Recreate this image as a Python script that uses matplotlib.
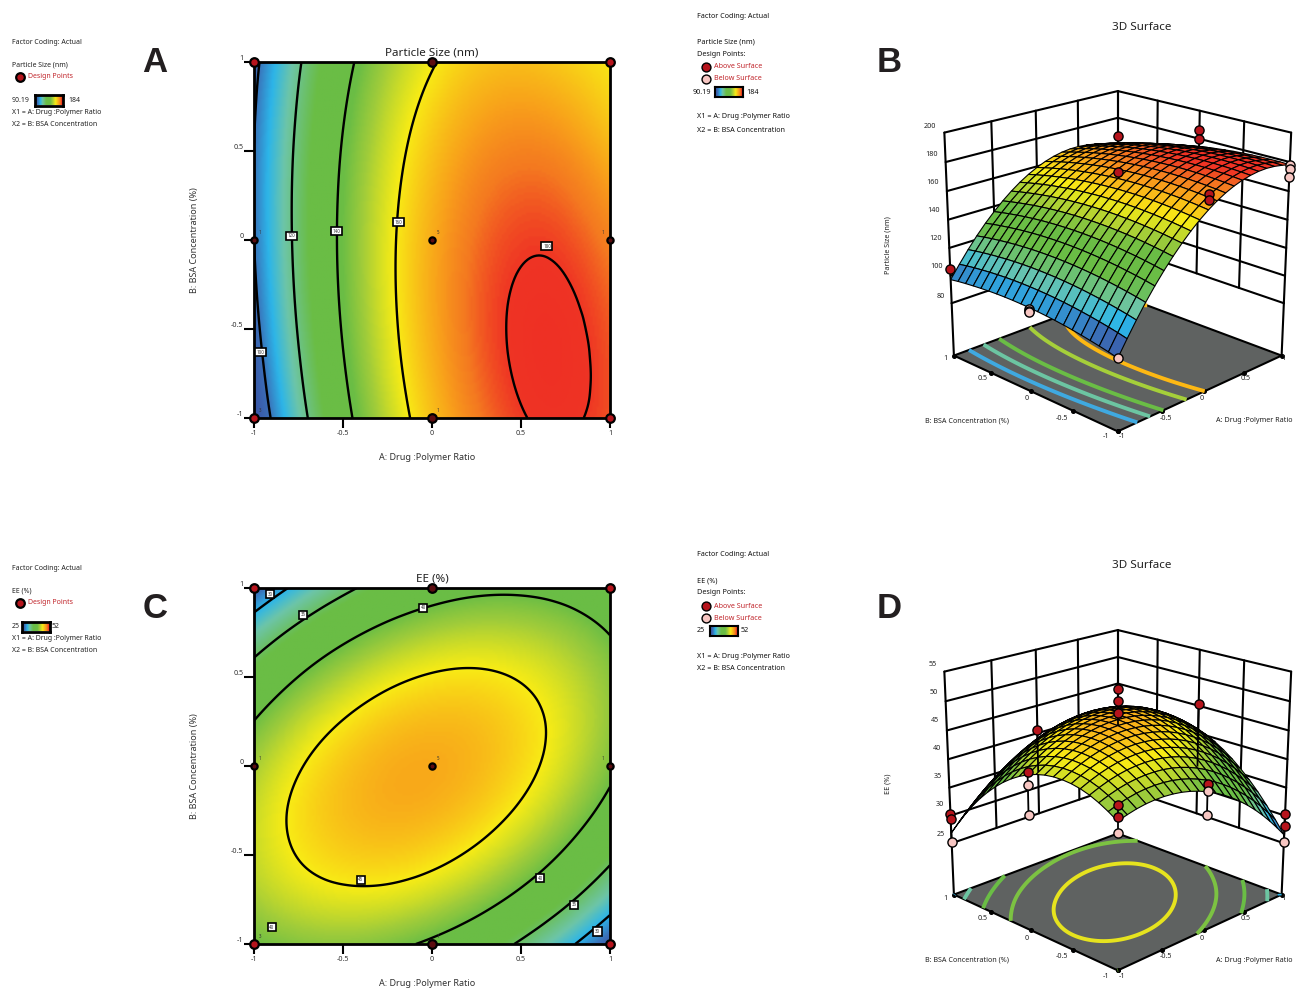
import numpy as np
import matplotlib
matplotlib.use("Agg")
import matplotlib.pyplot as plt
import matplotlib.tri as mtri
from matplotlib.colors import LinearSegmentedColormap, Normalize

plt.rcParams['font.family'] = ['Noto Sans', 'DejaVu Sans']

W, H = 1305, 992
AXIS_VALUES = [-1, -0.75, -0.5, -0.25, 0, 0.25, 0.5, 0.75, 1]
TICKS = [-1, -0.5, 0, 0.5, 1]
TICK_LABELS = ['-1', '-0.5', '0', '0.5', '1']

# rows: B = -1 ... 1, columns: A = -1 ... 1
PARTICLE_SIZE = [
    [90.40, 115.26, 136.10, 152.96, 165.82, 174.72, 179.60, 180.71, 178.20],
    [93.96, 118.40, 138.82, 155.26, 167.71, 176.18, 180.65, 181.33, 178.41],
    [96.75, 120.77, 140.77, 156.79, 168.82, 176.88, 180.93, 181.19, 177.85],
    [98.76, 122.36, 141.95, 157.55, 169.16, 176.79, 180.42, 180.27, 176.51],
    [100.00, 123.18, 142.35, 157.53, 168.72, 175.94, 179.15, 178.58, 174.40],
    [100.46, 123.22, 141.97, 156.73, 167.50, 174.31, 177.10, 176.11, 171.51],
    [100.15, 122.49, 140.83, 155.17, 165.52, 171.90, 174.27, 172.87, 167.85],
    [99.06, 120.98, 138.90, 152.82, 162.75, 168.72, 170.67, 168.85, 163.80],
    [97.20, 118.70, 136.20, 149.71, 159.22, 164.77, 166.30, 164.30, 160.60],
]
EE = [
    [39.98, 41.01, 41.26, 40.74, 39.44, 37.37, 34.52, 30.90, 26.50],
    [42.20, 43.61, 44.23, 44.09, 43.16, 41.47, 38.99, 35.75, 31.72],
    [43.32, 45.10, 46.10, 46.33, 45.78, 44.46, 42.36, 39.49, 35.84],
    [43.33, 45.49, 46.86, 47.47, 47.29, 46.35, 44.62, 42.13, 38.85],
    [42.24, 44.77, 46.52, 47.50, 47.70, 47.13, 45.78, 43.66, 40.76],
    [40.05, 42.96, 45.08, 46.44, 47.01, 46.82, 45.84, 44.10, 41.57],
    [36.76, 40.04, 42.54, 44.27, 45.22, 45.40, 44.80, 43.43, 41.28],
    [32.36, 36.02, 38.89, 41.00, 42.32, 42.88, 42.65, 41.66, 39.88],
    [26.86, 30.89, 34.14, 36.62, 38.32, 39.25, 39.40, 38.78, 37.38],
]

SIZE_LEVELS = [100, 120, 140, 160, 180]
EE_LEVELS = [30, 35, 40, 45]
SIZE_RANGE = (90.19, 184)
EE_RANGE = (25, 52)

SIZE_FLOOR_LEVELS = [112, 125, 137, 155, 166]
SIZE_FLOOR_COLORS = ['#3fa9e0', '#6cc5a2', '#6abd45', '#a5cf3a', '#fdb813']
EE_FLOOR_LEVELS = [27, 30, 35, 40, 45]
EE_FLOOR_COLORS = ['#2cb5e9', '#6cc5a2', '#6abd45', '#7cc242', '#e6e31e']

SIZE_LABELS = [(-0.966, -0.63, '100'), (-0.787, 0.023, '120'), (-0.534, 0.05, '140'),
               (-0.19, 0.1, '160'), (0.646, -0.034, '180')]
EE_LABELS = [(-0.91, 0.966, '30'), (-0.725, 0.85, '35'), (-0.05, 0.89, '40'), (-0.4, -0.64, '45'),
             (0.607, -0.63, '40'), (0.8, -0.78, '35'), (0.93, -0.93, '30'), (-0.9, -0.905, '40')]

POINTS_A = [-1, 0, 1, -1, 0, 1, -1, 0, 1]
POINTS_B = [-1, -1, -1, 0, 0, 0, 1, 1, 1]
POINTS_N = ['3', '1', '', '1', '5', '1', '', '', '']

# (A, B, measured value, above surface?, in front of the surface?)
SIZE_DESIGN = [
    (1, 1, 166, True, False), (0, 0, 173, True, True),
    (1, 0, 186, True, True), (1, 0, 180, True, True),
    (0, -1, 176, True, True), (0, -1, 172, True, True),
    (-1, 1, 105, True, True),
    (-1, 0, 99, False, True), (-1, 0, 98, False, True), (-1, 0, 97, False, True),
    (-1, -1, 90.19, False, True),
    (1, -1, 178, False, True), (1, -1, 175, False, True), (1, -1, 170, False, True),
]
EE_DESIGN = [
    (0, 0, 52, True, True), (0, 0, 50, True, True), (0, 0, 48, True, True),
    (-1, -1, 42.6, True, True), (-1, -1, 40.6, True, True), (-1, -1, 38.1, False, True),
    (-1, 1, 30.3, True, True), (-1, 1, 29.4, True, True), (-1, 1, 25.3, False, True),
    (1, -1, 30.3, True, True), (1, -1, 28.2, True, True), (1, -1, 25.3, False, True),
    (-1, 0, 42.7, True, True), (-1, 0, 40.6, False, True), (-1, 0, 35.5, False, True),
    (0, -1, 40.7, True, True), (0, -1, 39.6, False, True), (0, -1, 35.5, False, True),
    (0, 1, 40.5, True, True), (1, 0, 45.3, True, True),
]
SIZE_STEMS = []
EE_STEMS = [(-1, 0, 35.5, 42.7), (0, -1, 35.5, 40.7), (0, 1, 33, 40.5), (1, 0, 34, 45.3),
            (0, 0, 46, 52), (-1, -1, 38.1, 42.6), (-1, 1, 25.3, 30.3), (1, -1, 25.3, 30.3)]

cmap = LinearSegmentedColormap.from_list('design_expert', [
    (0.00, '#3953a4'), (0.09, '#3b6cb5'), (0.18, '#2cb5e9'), (0.27, '#6dc5a8'), (0.40, '#6abd45'),
    (0.55, '#6abd45'), (0.63, '#a0cc3a'), (0.74, '#f8ec15'), (0.85, '#f9a51a'), (0.91, '#f47920'),
    (0.96, '#ef3424'), (1.00, '#ee2b24')])
RED = '#b6141c'
PINK = '#f7c6c2'
LEG_RED = '#c1272d'
FLOOR = '#5f6261'
FONT_2D = 6.5


def refine(grid, n):
    """Smooth the read-off grid with matplotlib's own cubic tri interpolator."""
    ax_v = np.array(AXIS_VALUES, float)
    xg, yg = np.meshgrid(ax_v, ax_v)
    tri = mtri.Triangulation(xg.ravel(), yg.ravel())
    interp = mtri.CubicTriInterpolator(tri, np.array(grid, float).ravel(), kind='min_E')
    line = np.linspace(-1, 1, n)
    xf, yf = np.meshgrid(line, line)
    return xf, yf, np.ma.filled(interp(xf, yf), np.nan)


def px_axes(x0, y0, x1, y1, **kw):
    return fig.add_axes([x0 / W, 1 - y1 / H, (x1 - x0) / W, (y1 - y0) / H], **kw)


fig = plt.figure(figsize=(W / 100, H / 100), dpi=100)


def panel_2d(box, grid, rng, levels, labels, title):
    ax = px_axes(*box)
    X, Y, Z = refine(grid, 161)
    ax.imshow(Z, origin='lower', extent=(-1, 1, -1, 1), cmap=cmap, norm=Normalize(*rng),
              interpolation='bilinear', aspect='auto', zorder=1)
    ax.contour(X, Y, Z, levels=levels, colors='k', linewidths=1.7, zorder=2)
    for lx, ly, s in labels:
        ax.text(lx, ly, s, fontsize=3.2, ha='center', va='center', color='#333333', zorder=3,
                bbox=dict(boxstyle='square,pad=0.35', fc='white', ec='k', lw=1.2))
    for a, b, n in zip(POINTS_A, POINTS_B, POINTS_N):
        corner = abs(a) == 1 and abs(b) == 1
        big = corner or b != 0
        ax.plot([a], [b], 'o', ms=6.2 if big else 4.5, mfc=RED if corner else '#5c0d10', mec='k',
                mew=1.6, clip_on=False, zorder=5)
        if n:
            ax.text(a + 0.025 if a < 1 else a - 0.03, b + 0.03, n, fontsize=3.2, color='#333333',
                    ha='left' if a < 1 else 'right', va='bottom', zorder=4)
    ax.set_xlim(-1, 1)
    ax.set_ylim(-1, 1)
    ax.set_xticks(TICKS, TICK_LABELS)
    ax.set_yticks(TICKS, TICK_LABELS)
    ax.tick_params(length=7, width=1.5, labelsize=5.2, colors='k', labelcolor='#333333')
    ax.tick_params(axis='x', pad=1.5)
    ax.tick_params(axis='y', pad=0.5)
    for t in ax.get_yticklabels():
        t.set_va('bottom')
    for s in ax.spines.values():
        s.set_linewidth(2.0)
    ax.set_title(title, fontsize=8.4, pad=5, color='#222222')
    ax.set_xlabel('A: Drug :Polymer Ratio', fontsize=FONT_2D, labelpad=12, color='#333333', x=0.486)
    ax.set_ylabel('B: BSA Concentration (%)', fontsize=FONT_2D, labelpad=23, color='#333333')
    return ax


panel_2d((254, 62, 610, 418), PARTICLE_SIZE, SIZE_RANGE, SIZE_LEVELS, SIZE_LABELS, 'Particle Size (nm)')
panel_2d((254, 588, 610, 944), EE, EE_RANGE, EE_LEVELS, EE_LABELS, 'EE (%)')


def panel_3d(cx, cy, grid, rng, levels, colors, zticks, zfloor, design, stems):
    S = 500
    ax = px_axes(cx - S / 2, cy - S / 2, cx + S / 2, cy + S / 2, projection='3d', computed_zorder=False)
    ax.set_proj_type('persp', focal_length=0.53)
    ax.view_init(elev=20, azim=-135)
    ax.set_box_aspect((1, 1, 0.995), zoom=0.80)
    ax.set_axis_off()
    ax.patch.set_alpha(0)
    zmin, zmax = zticks[0], zticks[-1]
    ax.set_xlim(-1, 1, view_margin=0)
    ax.set_ylim(-1, 1, view_margin=0)
    ax.set_zlim(zfloor, zmax, view_margin=0)

    # walls
    wk = dict(color='k', lw=1.5, zorder=1, solid_capstyle='round')
    for t in TICKS:
        ax.plot([t, t], [1, 1], [zmin, zmax], **wk)
        ax.plot([1, 1], [t, t], [zmin, zmax], **wk)
    for z in zticks:
        ax.plot([-1, 1], [1, 1], [z, z], **wk)
        ax.plot([1, 1], [-1, 1], [z, z], **wk)
    ax.plot([-1, -1], [1, 1], [zfloor, zmin], **wk)
    ax.plot([1, 1], [-1, -1], [zfloor, zmin], **wk)

    # floor
    xf = np.array([[-1, 1], [-1, 1]], float)
    yf = np.array([[-1, -1], [1, 1]], float)
    ax.plot_surface(xf, yf, np.full((2, 2), zfloor), color=FLOOR, shade=False, linewidth=0, zorder=2)
    ax.plot([-1, 1, 1, -1, -1], [-1, -1, 1, 1, -1], [zfloor] * 5, color='k', lw=1.5, zorder=3)
    for t in TICKS:
        ax.plot([t], [-1], [zfloor], 'o', color='k', ms=2.6, zorder=3)
        ax.plot([-1], [t], [zfloor], 'o', color='k', ms=2.6, zorder=3)

    X, Y, Z = refine(grid, 101)
    norm = Normalize(*rng)
    ax.contour(X, Y, Z, levels=levels, zdir='z', offset=zfloor, colors=colors,
               linewidths=2.8, zorder=4)

    # design points behind the surface
    def draw_points(front):
        for a, b, v, above, in_front in design:
            if in_front == front:
                ax.plot([a], [b], [v], 'o', ms=6.6, mfc=RED if above else PINK, mec='k', mew=1.0,
                        zorder=8 if front else 4.5)

    draw_points(False)
    for a, b, z0, z1 in stems:
        ax.plot([a, a], [b, b], [z0, z1], color='k', lw=1.3, zorder=7)

    Xs, Ys, Zs = refine(grid, 21)
    Zc = 0.25 * (Zs[:-1, :-1] + Zs[1:, :-1] + Zs[:-1, 1:] + Zs[1:, 1:])
    ax.plot_surface(Xs, Ys, Zs, rstride=1, cstride=1, facecolors=cmap(norm(Zc)), shade=False,
                    edgecolor='k', linewidth=0.8, zorder=5, antialiased=True)
    draw_points(True)
    return ax


SIZE_ZTICKS = [80, 100, 120, 140, 160, 180, 200]
EE_ZTICKS = [25, 30, 35, 40, 45, 50, 55]
panel_3d(1111, 254, PARTICLE_SIZE, SIZE_RANGE, SIZE_FLOOR_LEVELS, SIZE_FLOOR_COLORS, SIZE_ZTICKS, 41, SIZE_DESIGN, SIZE_STEMS)
panel_3d(1111, 793, EE, EE_RANGE, EE_FLOOR_LEVELS, EE_FLOOR_COLORS, EE_ZTICKS, 15.5, EE_DESIGN, EE_STEMS)

# overlay in pixel coordinates: annotation and legends
ov = fig.add_axes([0, 0, 1, 1], zorder=20)
ov.set_xlim(0, W)
ov.set_ylim(H, 0)
ov.axis('off')
ov.patch.set_alpha(0)


def txt(x, y, s, size=5.0, color='#222222', **kw):
    kw.setdefault('va', 'center')
    ov.text(x, y, s, fontsize=size, color=color, **kw)


def colorbar(x0, y0, x1, y1, lw=2.0):
    a = px_axes(x0, y0, x1, y1, zorder=21)
    a.imshow(np.linspace(0, 1, 64)[None, :], cmap=cmap, aspect='auto')
    a.set_xticks([])
    a.set_yticks([])
    for s in a.spines.values():
        s.set_linewidth(lw)


def left_legend(dy, name, lo, hi, lox, barx, hix):
    txt(12, 42 + dy, 'Factor Coding: Actual')
    txt(12, 65 + dy, name)
    ov.plot([20], [77 + dy], 'o', ms=6.2, mfc=RED, mec='k', mew=1.6)
    txt(28, 77 + dy, 'Design Points', color=LEG_RED)
    txt(lox, 101 + dy, lo)
    colorbar(barx, 95.5 + dy, barx + 28, 105.5 + dy)
    txt(hix, 101 + dy, hi)
    txt(12, 112 + dy, 'X1 = A: Drug :Polymer Ratio')
    txt(12, 124 + dy, 'X2 = B: BSA Concentration')


def right_legend(dy, name, lo, hi, lox, barx, hix):
    kw = dict(size=5.2, fontweight='medium', color='#111111')
    txt(697, 16 + dy, 'Factor Coding: Actual', **kw)
    txt(697, 42 + dy, name, **kw)
    txt(697, 54 + dy, 'Design Points:', **kw)
    ov.plot([706], [67 + dy], 'o', ms=6.4, mfc=RED, mec='k', mew=1.0)
    txt(714, 67 + dy, 'Above Surface', size=5.2, color=LEG_RED)
    ov.plot([706], [79 + dy], 'o', ms=6.4, mfc=PINK, mec='k', mew=1.0)
    txt(714, 79 + dy, 'Below Surface', size=5.2, color=LEG_RED)
    txt(lox, 92 + dy, lo, **kw)
    colorbar(barx, 87 + dy, barx + 28, 97 + dy, lw=1.5)
    txt(hix, 92 + dy, hi, **kw)
    txt(697, 117 + dy, 'X1 = A: Drug :Polymer Ratio', **kw)
    txt(697, 130 + dy, 'X2 = B: BSA Concentration', **kw)


left_legend(0, 'Particle Size (nm)', '90.19', '184', 12, 35, 68)
left_legend(526, 'EE (%)', '25', '52', 12, 22, 52)
right_legend(0, 'Particle Size (nm)', '90.19', '184', 693, 715, 746)
right_legend(539, 'EE (%)', '25', '52', 697, 710, 741)

for x, y, s in [(155, 63, 'A'), (889, 63, 'B'), (155, 609, 'C'), (889, 609, 'D')]:
    ov.text(x, y, s, fontsize=25, fontweight='bold', family='Liberation Sans', color='#231f20',
            ha='center', va='center')

for dy, name, zt, ztx in [(0, 'Particle Size (nm)', SIZE_ZTICKS, [941, 937, 936, 934, 933, 932, 930]),
                          (539, 'EE (%)', EE_ZTICKS, [941, 940, 938, 937, 935, 934, 933])]:
    txt(1142, 27 + dy, '3D Surface', size=8.4, ha='center')
    txt(925, 421 + dy, 'B: BSA Concentration (%)', size=5.2)
    txt(1216, 421 + dy, 'A: Drug :Polymer Ratio', size=5.2)
    txt(888, 245 + dy, name, size=5.2, rotation=90, ha='center')
    for v, x, y in zip(zt, ztx, [296, 267, 239, 211, 182, 154, 126]):
        txt(x, y + dy - (1 if dy else 0), str(v), size=5.2, ha='center')
    for lab, x, y in zip(TICK_LABELS, [1106, 1062, 1027, 983, 945], [437, 418, 399, 379, 359]):
        txt(x, y + dy, lab, size=5.2, ha='center')
    for lab, x, y in zip(TICK_LABELS, [1122, 1166, 1202, 1246, 1283], [437, 418, 399, 379, 359]):
        txt(x, y + dy, lab, size=5.2, ha='center')

fig.savefig('out.png', dpi=100)
